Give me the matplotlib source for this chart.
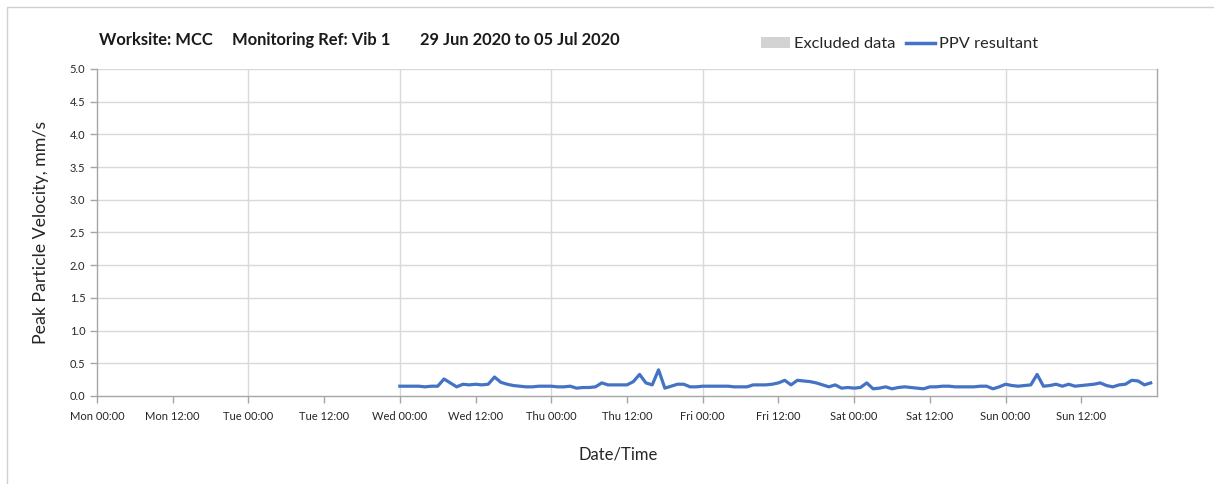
#!/usr/bin/env python3
"""
Vibration monitoring chart: PPV resultant over one week.
"""

import matplotlib
matplotlib.use('Agg')
import matplotlib.pyplot as plt
from matplotlib.patches import Patch, Rectangle
from matplotlib.lines import Line2D

# Week axis: hours from Mon 00:00, labels every 12 hours
TICK_LABELS = ['Mon 00:00', 'Mon 12:00', 'Tue 00:00', 'Tue 12:00',
               'Wed 00:00', 'Wed 12:00', 'Thu 00:00', 'Thu 12:00',
               'Fri 00:00', 'Fri 12:00', 'Sat 00:00', 'Sat 12:00',
               'Sun 00:00', 'Sun 12:00']
TICK_HOURS = [12 * i for i in range(len(TICK_LABELS))]
WEEK_HOURS = 168

# Hourly PPV readings (mm/s), starting Wed 00:00
DATA_START_HOUR = 48
PPV = [
    # Wed
    0.15, 0.15, 0.15, 0.15, 0.14, 0.15, 0.15, 0.26, 0.20, 0.14, 0.18, 0.17,
    0.18, 0.17, 0.18, 0.29, 0.21, 0.18, 0.16, 0.15, 0.14, 0.14, 0.15, 0.15,
    # Thu
    0.15, 0.14, 0.14, 0.15, 0.12, 0.13, 0.13, 0.14, 0.20, 0.17, 0.17, 0.17,
    0.17, 0.22, 0.33, 0.20, 0.17, 0.40, 0.12, 0.15, 0.18, 0.18, 0.14, 0.14,
    # Fri
    0.15, 0.15, 0.15, 0.15, 0.15, 0.14, 0.14, 0.14, 0.17, 0.17, 0.17, 0.18,
    0.20, 0.24, 0.17, 0.24, 0.23, 0.22, 0.20, 0.17, 0.14, 0.17, 0.12, 0.13,
    # Sat
    0.12, 0.13, 0.20, 0.11, 0.12, 0.14, 0.11, 0.13, 0.14, 0.13, 0.12, 0.11,
    0.14, 0.14, 0.15, 0.15, 0.14, 0.14, 0.14, 0.14, 0.15, 0.15, 0.11, 0.14,
    # Sun
    0.18, 0.16, 0.15, 0.16, 0.17, 0.33, 0.15, 0.16, 0.18, 0.15, 0.18, 0.15,
    0.16, 0.17, 0.18, 0.20, 0.16, 0.14, 0.17, 0.18, 0.24, 0.23, 0.17, 0.20,
]
HOURS = [DATA_START_HOUR + i for i in range(len(PPV))]

TITLE_PARTS = ['Worksite: MCC', 'Monitoring Ref: Vib 1', '29 Jun 2020 to 05 Jul 2020']

LINE_COLOR = '#4472C4'
GRID_COLOR = '#D9D9D9'
AXIS_COLOR = '#A6A6A6'
TEXT_COLOR = '#262626'

plt.rcParams['font.family'] = ['Lato', 'DejaVu Sans']

fig = plt.figure(figsize=(12.14, 4.84), dpi=100)
fig.patch.set_facecolor('white')

# thin frame round the chart area
fig.add_artist(Rectangle((7 / 1214, -0.01), 1.0, 1 - 7 / 484 + 0.01,
                         transform=fig.transFigure, fill=False,
                         edgecolor='#D0D0D0', linewidth=1.0))

ax = fig.add_axes([97 / 1214, 88 / 484, (1157 - 97) / 1214, (396 - 69) / 484])

ax.plot(HOURS, PPV, color=LINE_COLOR, linewidth=2.3, solid_joinstyle='round')

ax.set_xlim(0, WEEK_HOURS)
ax.set_ylim(0, 5.0)
ax.set_xticks(TICK_HOURS)
ax.set_xticklabels(TICK_LABELS, fontsize=8, color=TEXT_COLOR)
ax.set_yticks([0.5 * i for i in range(11)])
ax.set_yticklabels([f'{0.5 * i:.1f}' for i in range(11)], fontsize=8, color=TEXT_COLOR)

# gridlines: vertical only at midnights, horizontal every 0.5
for h in range(24, WEEK_HOURS, 24):
    ax.axvline(h, color=GRID_COLOR, linewidth=1.0, zorder=0)
for i in range(1, 11):
    ax.axhline(0.5 * i, color=GRID_COLOR, linewidth=1.0, zorder=0)

for side in ['left', 'bottom', 'right']:
    ax.spines[side].set_color(AXIS_COLOR)
    ax.spines[side].set_linewidth(1.0)
ax.spines['top'].set_visible(False)
ax.tick_params(axis='both', colors=AXIS_COLOR, labelcolor=TEXT_COLOR,
               length=5, width=1.0, direction='out')
ax.tick_params(axis='x', pad=6)

ax.set_xlabel('Date/Time', fontsize=12, color=TEXT_COLOR, labelpad=16)
ax.xaxis.set_label_coords(0.492, -0.155)
ax.set_ylabel('Peak Particle Velocity, mm/s', fontsize=12.8, color=TEXT_COLOR, labelpad=15)

# title made of three parts
for x_px, part in zip([99, 232, 420], TITLE_PARTS):
    fig.text(x_px / 1214, 1 - 40 / 484, part, fontsize=11.9, fontweight='bold',
             color='#1a1a1a', ha='left', va='center')

handles = [Patch(facecolor='#D3D3D3', edgecolor='none'),
           Line2D([0], [0], color=LINE_COLOR, linewidth=2.5)]
fig.legend(handles, ['Excluded data', 'PPV resultant'], loc='center left',
           bbox_to_anchor=(746 / 1214, 1 - 44 / 484), ncol=2, frameon=False,
           fontsize=11.8, handlelength=1.8, handletextpad=0.25, columnspacing=0.6,
           labelcolor=TEXT_COLOR)

fig.savefig('out.png', dpi=100, facecolor='white')
plt.close(fig)
